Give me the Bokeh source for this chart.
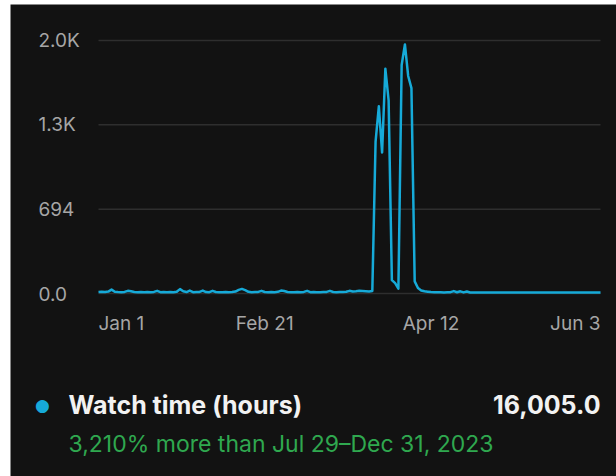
import pandas as pd
from bokeh.plotting import figure
from bokeh.models import Range1d, Label
from bokeh.embed import file_html
from bokeh.resources import INLINE

# ---------------- data ----------------
start_date = "2024-01-01"
watch_hours = [
    12, 14, 12, 16, 32, 14, 12, 11, 13, 22,
    18, 12, 11, 12, 10, 12, 11, 13, 22, 11,
    12, 10, 12, 11, 14, 36, 18, 12, 24, 11,
    12, 13, 24, 12, 11, 22, 12, 11, 10, 12,
    11, 12, 16, 30, 38, 28, 14, 11, 12, 13,
    22, 12, 11, 12, 11, 14, 24, 20, 12, 11,
    10, 12, 11, 13, 22, 11, 12, 11, 10, 12,
    13, 22, 12, 11, 12, 13, 14, 22, 16, 18,
    22, 20, 18, 16, 20, 1250, 1540, 1160, 1850, 1590,
    110, 85, 40, 1880, 2050, 1790, 1690, 100, 45, 25,
    18, 15, 12, 11, 10, 10, 9, 10, 11, 20,
    10, 18, 9, 16, 8, 8, 8, 8, 8, 8,
    8, 8, 8, 8, 8, 8, 8, 8, 8, 8,
    8, 8, 8, 8, 8, 8, 8, 8, 8, 8,
    8, 8, 8, 8, 8, 8, 8, 8, 8, 8,
    8, 8, 8, 8, 8,
]
dates = pd.date_range(start_date, periods=len(watch_hours), freq="D")

y_ticks = [0, 694, 1388, 2082]
y_tick_labels = ["0.0", "694", "1.3K", "2.0K"]
x_tick_dates = ["2024-01-01", "2024-02-21", "2024-04-12", "2024-06-03"]
x_tick_labels = ["Jan 1", "Feb 21", "Apr 12", "Jun 3"]
x_tick_aligns = ["left", "center", "center", "right"]

series_name = "Watch time (hours)"
series_total = "16,005.0"
comparison_text = "3,210% more than Jul 29\u2013Dec 31, 2023"

# ---------------- styling / layout ----------------
BG = "#121212"
LINE = "#16aad8"
GRID = "#2e2e2e"
TICK_TXT = "#a6a6a6"
FONT = "Inter"

W, H = 606, 472
# plot mapping (canvas pixels): first day at px 88, last day at px 590;
# value 0 at 289 px from top, top tick at 36 px from top
day_ms = 86400000
x_first = pd.Timestamp(dates[0]).value / 1e6
x_last = pd.Timestamp(dates[-1]).value / 1e6
px_first, px_last = 88.0, 590.0
ms_per_px = (x_last - x_first) / (px_last - px_first)
py_zero, py_top = 289.0, 36.0
val_per_px = y_ticks[-1] / (py_zero - py_top)

p = figure(
    width=W, height=H, margin=(4, 0, 0, 10),
    x_axis_type="datetime",
    x_range=Range1d(x_first - px_first * ms_per_px, x_first + (W - px_first) * ms_per_px),
    y_range=Range1d(-(H - py_zero) * val_per_px, py_zero * val_per_px),
    output_backend="svg", toolbar_location=None,
    min_border_left=0, min_border_right=0, min_border_top=0, min_border_bottom=0,
    outline_line_color=None,
)
p.background_fill_color = BG
p.border_fill_color = BG
p.axis.visible = False
p.grid.visible = False

# horizontal grid lines spanning the data period
p.segment(x0=[dates[0]] * len(y_ticks), x1=[dates[-1]] * len(y_ticks),
          y0=y_ticks, y1=y_ticks, line_color=GRID, line_width=1.5)

p.line(dates, watch_hours, line_color=LINE, line_width=2.5, line_join="round")

# y tick labels (left aligned)
for t, lab in zip(y_ticks, y_tick_labels):
    p.add_layout(Label(x=28, x_units="screen", y=t, y_units="data", text=lab,
                       text_align="left", text_baseline="middle",
                       text_color=TICK_TXT, text_font=FONT, text_font_size="19px"))

# x tick labels
for d, lab, al in zip(x_tick_dates, x_tick_labels, x_tick_aligns):
    p.add_layout(Label(x=pd.Timestamp(d).value / 1e6, x_units="data", y=153, y_units="screen",
                       text=lab, text_align=al, text_baseline="middle",
                       text_color=TICK_TXT, text_font=FONT, text_font_size="19px"))

# legend row
p.add_layout(Label(x=32, x_units="screen", y=72, y_units="screen", text="\u25CF",
                   text_align="center", text_baseline="middle",
                   text_color=LINE, text_font="DejaVu Sans", text_font_size="17px"))
p.add_layout(Label(x=58, x_units="screen", y=72, y_units="screen", text=series_name,
                   text_align="left", text_baseline="middle",
                   text_color="#f2f2f2", text_font=FONT, text_font_style="bold",
                   text_font_size="25px"))
p.add_layout(Label(x=590, x_units="screen", y=72, y_units="screen", text=series_total,
                   text_align="right", text_baseline="middle",
                   text_color="#f2f2f2", text_font=FONT, text_font_style="bold",
                   text_font_size="25px"))
p.add_layout(Label(x=58, x_units="screen", y=33, y_units="screen", text=comparison_text,
                   text_align="left", text_baseline="middle",
                   text_color="#2fa84f", text_font=FONT, text_font_size="23px"))

open("out.html", "w").write(file_html(p, INLINE))
